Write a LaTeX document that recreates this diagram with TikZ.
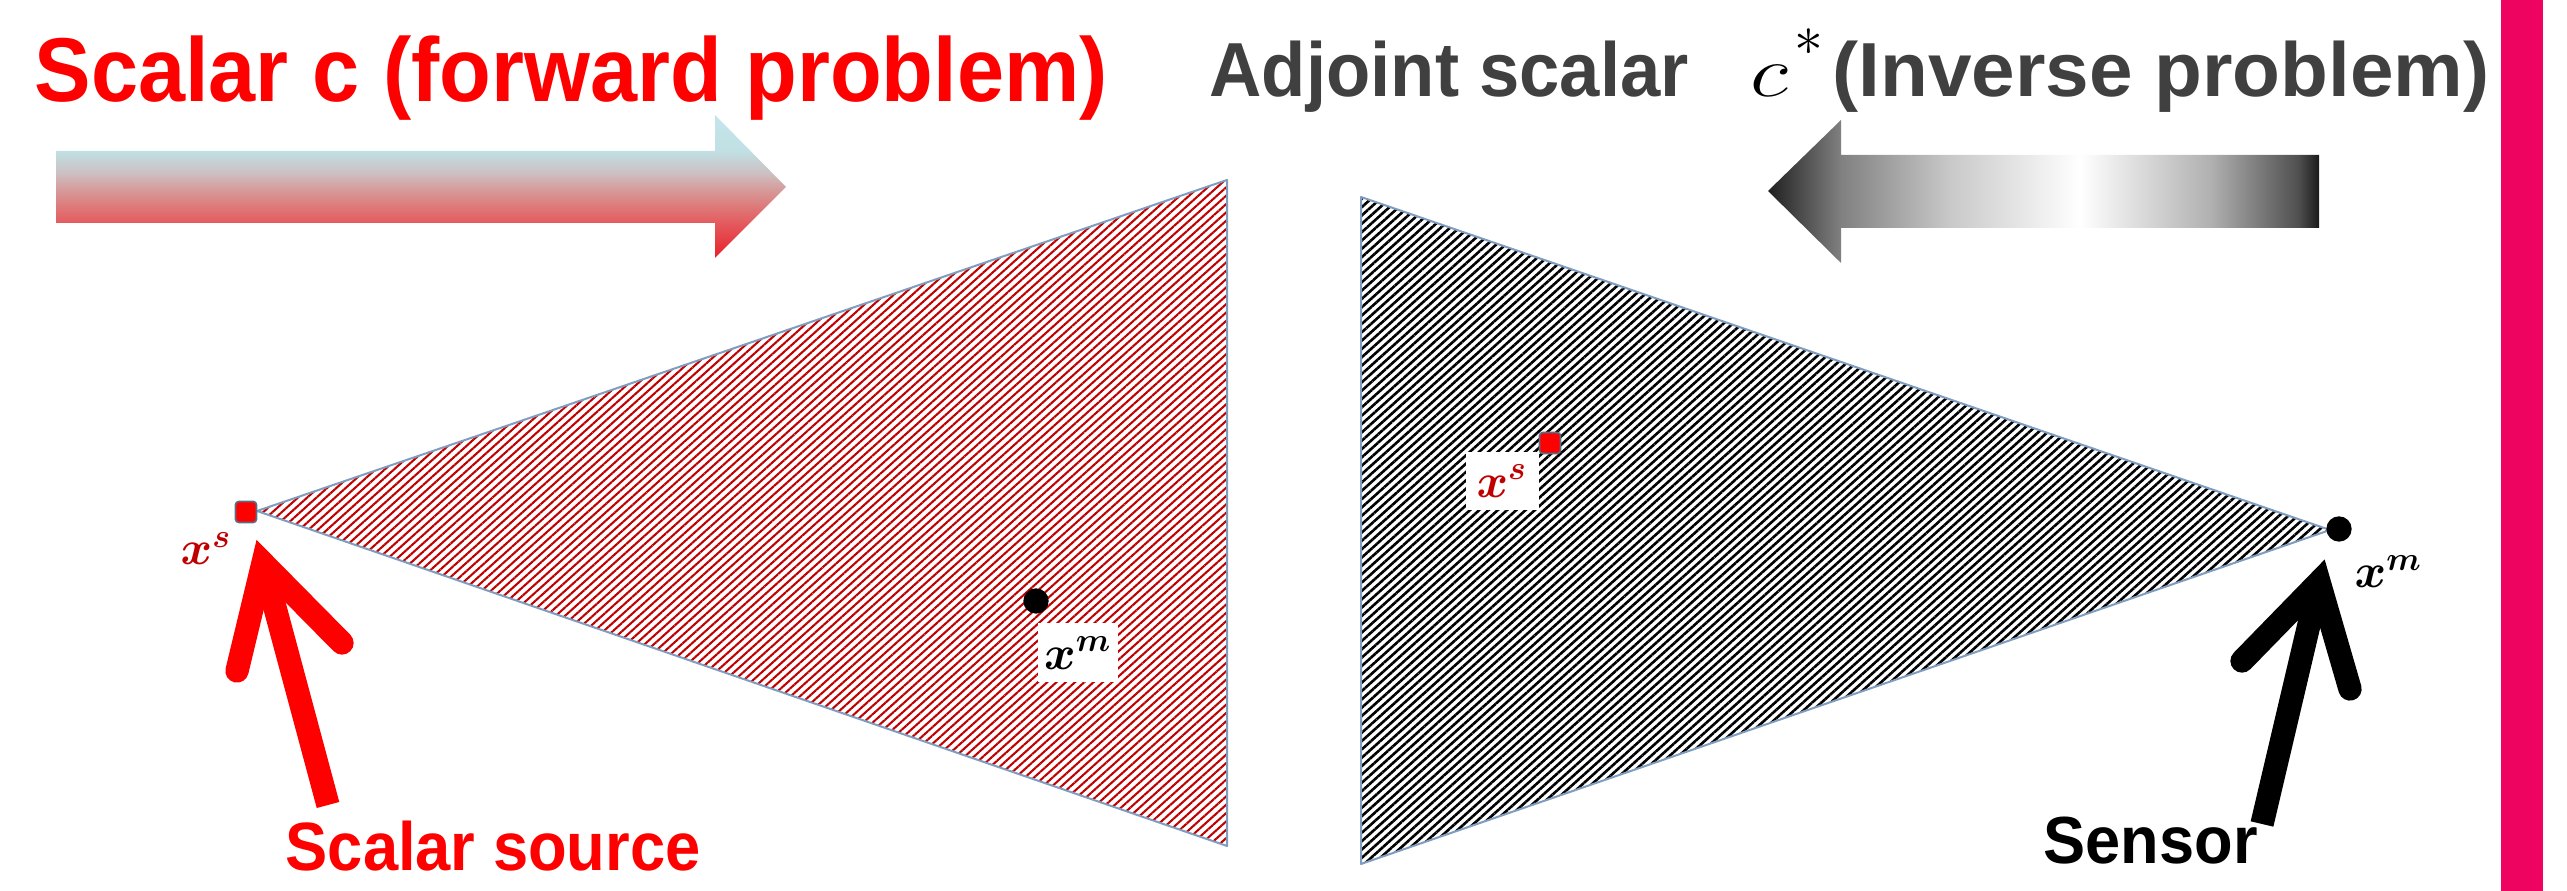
\documentclass[tikz,border=0pt]{standalone}
\usepackage{fontspec}
\newfontfamily\arialf{Liberation Sans}
\usetikzlibrary{patterns.meta}
\definecolor{hatchred}{RGB}{192,0,0}
\definecolor{edgeblue}{RGB}{127,157,190}
\definecolor{titlegrey}{RGB}{64,64,64}
\definecolor{pinkbar}{RGB}{238,4,96}
\definecolor{labred}{RGB}{192,0,0}
\definecolor{fa}{RGB}{232,32,42}
\definecolor{fb}{RGB}{228,90,94}
\definecolor{fc}{RGB}{222,120,120}
\definecolor{fd}{RGB}{213,160,160}
\definecolor{fe}{RGB}{204,192,194}
\definecolor{ff}{RGB}{192,224,227}
\definecolor{fg}{RGB}{196,230,234}
\definecolor{ga}{RGB}{32,32,32}
\definecolor{gb}{RGB}{128,128,128}
\definecolor{gc}{RGB}{200,200,200}
\definecolor{gd}{RGB}{255,255,255}
\definecolor{ge}{RGB}{176,176,176}
\definecolor{gf}{RGB}{80,80,80}
\definecolor{gg}{RGB}{26,26,26}
\pgfdeclareverticalshading{fwdshade}{100bp}{color(0bp)=(fa); color(25bp)=(fa); color(37.2bp)=(fb); color(42.8bp)=(fc); color(49.8bp)=(fd); color(54.7bp)=(fe); color(62.4bp)=(ff); color(75bp)=(fg); color(100bp)=(fg)}
\pgfdeclarehorizontalshading{invshade}{100bp}{color(0bp)=(ga); color(25bp)=(ga); color(31.6bp)=(gb); color(41.4bp)=(gc); color(53.3bp)=(gd); color(65.2bp)=(ge); color(73.1bp)=(gf); color(75bp)=(gg); color(100bp)=(gg)}
\tikzset{
  edge/.style={draw=edgeblue, line width=0.6pt, line join=round},
  srcsq/.style={rectangle, fill=red, draw=edgeblue!70!black, line width=0.5pt, rounded corners=1pt, minimum size=6.3pt, inner sep=0pt},
  meas/.style={circle, fill=black, minimum size=7.6pt, inner sep=0pt},
  lab/.style={inner sep=0pt, font=\fontsize{14.4}{18}\selectfont\boldmath},
  labbox/.style={fill=white, inner sep=0pt, font=\fontsize{14.4}{18}\selectfont\boldmath},
  fatline/.style={line width=7pt, line cap=round, line join=miter},
  fatshaft/.style={line width=7pt, line cap=butt},
  ttl/.style={inner sep=0pt, anchor=base west},
}
\begin{document}
\begin{tikzpicture}[x=0.3pt,y=0.3pt]
\path[use as bounding box] (0,0) rectangle (2567,891);

% pink bar
\fill[pinkbar] (2501,0) rectangle (2543,891);

% triangles
\coordinate (A1) at (257,380);
\coordinate (B1) at (1227,711);
\coordinate (C1) at (1227,45);
\coordinate (A2) at (1361,694);
\coordinate (B2) at (1361,27);
\coordinate (C2) at (2330,361);
\path[pattern={Lines[angle=42,distance=1.86pt,line width=0.62pt]}, pattern color=hatchred] (A1) -- (B1) -- (C1) -- cycle;
\draw[edge] (A1) -- (B1) -- (C1) -- cycle;
\path[pattern={Lines[angle=42,distance=1.86pt,line width=0.78pt]}, pattern color=black] (A2) -- (B2) -- (C2) -- cycle;
\draw[edge] (A2) -- (B2) -- (C2) -- cycle;

% gradient arrows
\shade[shading=fwdshade]
  (56,740) -- (715,740) -- (715,776) -- (786,704) -- (715,633) -- (715,668) -- (56,668) -- cycle;
\shade[shading=invshade]
  (2319,736) -- (1841,736) -- (1841,771) -- (1768,700) -- (1841,628) -- (1841,663) -- (2319,663) -- cycle;

% titles
\node[ttl, text=red, font=\arialf\bfseries\fontsize{27.2}{30}\selectfont] (title1) at (34,789)
  {\resizebox{321.9pt}{\height}{Scalar c (forward problem)}};
\node[ttl, text=titlegrey, font=\arialf\bfseries\fontsize{23}{28}\selectfont] (title2a) at (1209,794)
  {\resizebox{143.7pt}{\height}{Adjoint scalar}};
\node[ttl, font=\fontsize{20.74}{26}\selectfont] (title2c) at (1750,794) {\scalebox{1.3}[1.05]{$c$}};
\node[inner sep=0pt, font=\fontsize{17.28}{18}\selectfont] (title2s) at (1809,849) {$\ast$};
\node[ttl, text=titlegrey, font=\arialf\bfseries\fontsize{23}{28}\selectfont] (title2b) at (1832,794)
  {\resizebox{197.1pt}{\height}{(Inverse problem)}};

% markers
\node[srcsq] (xs1) at (246,379) {};
\node[srcsq] (xs2) at (1550,448) {};
\node[meas] (xm1) at (1036,290) {};
\node[meas] (xm2) at (2339,362) {};

% labels
\node[lab, text=labred, anchor=base west] (xs1lab) at (180,326) {$x^{s}$};
\node[labbox, minimum width=24pt, minimum height=17.7pt] (xm1lab) at (1078,238) {$x^{m}$};
\node[labbox, text=labred, minimum width=21.9pt, minimum height=17.4pt] (xs2lab) at (1502,410) {$x^{s}$};
\node[lab, anchor=base west] (xm2lab) at (2354,303) {$x^{m}$};

% bottom labels
\node[ttl, text=red, font=\arialf\bfseries\fontsize{20.5}{24}\selectfont] (srclab) at (285,20)
  {\resizebox{124.5pt}{\height}{Scalar source}};
\node[ttl, text=black, font=\arialf\bfseries\fontsize{20}{24}\selectfont] (senslab) at (2043,27)
  {\resizebox{64.2pt}{\height}{Sensor}};

% red arrow: scalar source -> x^s
\coordinate (rTail) at (328,86);
\coordinate (rV) at (263,328);
\coordinate (rL) at (237,220);
\coordinate (rR) at (342,248);
\draw[red, fatshaft] (rTail) -- (rV);
\draw[red, fatline] (rL) -- (rV) -- (rR);

% black arrow: sensor -> x^m
\coordinate (kTail) at (2262,67);
\coordinate (kV) at (2319,309);
\coordinate (kL) at (2242,230);
\coordinate (kR) at (2350,202);
\draw[black, fatshaft] (kTail) -- (kV);
\draw[black, fatline] (kL) -- (kV) -- (kR);
\end{tikzpicture}
\end{document}
